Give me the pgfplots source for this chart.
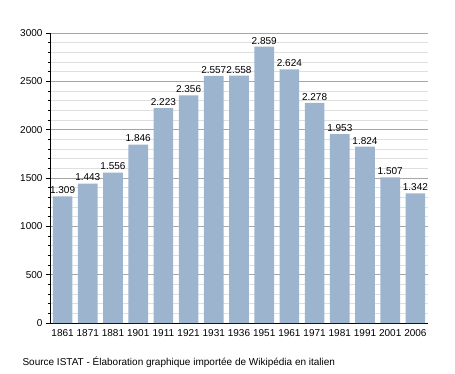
\documentclass[border=0pt]{standalone}
\usepackage{pgfplots}
\pgfplotsset{compat=1.18}
\usepackage{fontspec}
\setmainfont{Liberation Sans}
\definecolor{barc}{HTML}{9DB4CF}
\begin{document}
\begin{tikzpicture}
\path[use as bounding box] (0pt,0pt) rectangle (455pt,373pt);
\begin{axis}[
  at={(50pt,50pt)}, anchor=south west,
  scale only axis, width=378pt, height=290pt,
  xmin=-0.5, xmax=14.5, ymin=0, ymax=3000,
  axis x line*=bottom, axis y line*=left,
  axis line style={black, line width=0.8pt},
  xtick=data,
  xticklabels={1861,1871,1881,1901,1911,1921,1931,1936,1951,1961,1971,1981,1991,2001,2006},
  x tick style={draw=none},
  ytick={0,500,...,3000},
  minor y tick num=4,
  ymajorgrids, yminorgrids,
  major grid style={gray!70, line width=0.5pt},
  minor grid style={gray!25, line width=0.4pt},
  y tick style={black, line width=0.6pt},
  tick align=outside,
  major tick length=4pt, minor tick length=2.5pt,
  tick label style={font=\fontsize{10}{12}\selectfont},
  /pgf/number format/assume math mode=true,
  yticklabel style={/pgf/number format/1000 sep={}},
  xticklabel style={yshift=1pt},
  nodes near coords={\pgfplotspointmeta},
  point meta=explicit symbolic,
  every node near coord/.append style={font=\fontsize{10}{12}\selectfont, yshift=-1pt},
]
\addplot[ybar, bar width=0.78, fill=barc, draw=none] table[x=x, y=y, meta=l] {
x y l
0 1309 1.309
1 1443 1.443
2 1556 1.556
3 1846 1.846
4 2223 2.223
5 2356 2.356
6 2557 2.557
7 2558 2.558
8 2859 2.859
9 2624 2.624
10 2278 2.278
11 1953 1.953
12 1824 1.824
13 1507 1.507
14 1342 1.342
};
\end{axis}
\node[anchor=base west, font=\fontsize{10}{12}\selectfont] at (19pt,8pt) {Source ISTAT - Élaboration graphique importée de Wikipédia en italien};
\end{tikzpicture}
\end{document}
